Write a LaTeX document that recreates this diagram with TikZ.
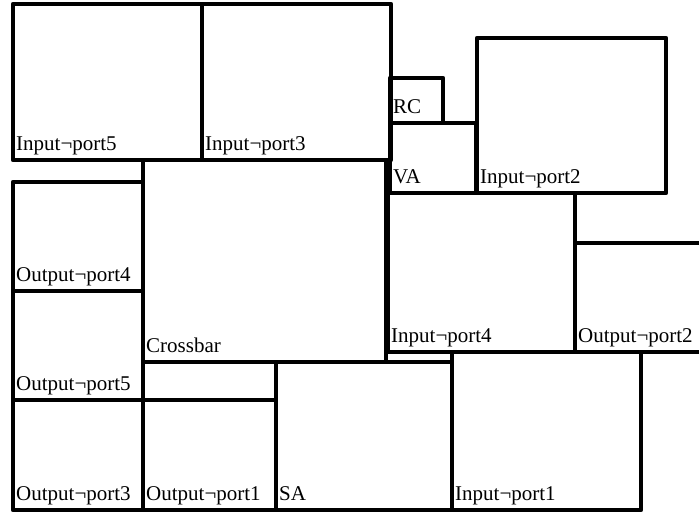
\documentclass[tikz,border=0pt]{standalone}
\usepackage{fontspec}
\setmainfont{Liberation Serif}
\newcommand\blkrect[6]{%
  \draw[blk] (#2,#3) rectangle (#4,#5);
  \node[lbl] (#1) at ({#2+3},{#5-9.5}) {#6};}
\begin{document}
\begin{tikzpicture}[x=1pt,y=-1pt,
  blk/.style={draw=black,line width=4.2pt,line join=round,line cap=round},
  lbl/.style={anchor=base west,inner sep=0pt,font=\fontsize{21}{24}\selectfont}]
\useasboundingbox (0,0) rectangle (699,512);
\clip (0,0) rectangle (699,512);
\blkrect{ip5}{13}{4}{202}{160}{Input¬port5}
\blkrect{ip3}{202}{4}{391}{160}{Input¬port3}
\blkrect{rc}{390}{78}{443}{123}{RC}
\blkrect{va}{390}{123}{476}{193}{VA}
\blkrect{ip2}{477}{38}{666}{193}{Input¬port2}
\blkrect{xb}{143}{160}{386}{362}{Crossbar}
\blkrect{op4}{13}{182}{143}{291}{Output¬port4}
\blkrect{op5}{13}{291}{143}{400}{Output¬port5}
\draw[blk] (143,362) rectangle (276,400);
\blkrect{op3}{13}{400}{143}{510}{Output¬port3}
\blkrect{op1}{143}{400}{276}{510}{Output¬port1}
\blkrect{sa}{276}{362}{452}{510}{SA}
\blkrect{ip4}{388}{193}{575}{352}{Input¬port4}
\blkrect{op2}{575}{243}{730}{352}{Output¬port2}
\blkrect{ip1}{452}{352}{641}{510}{Input¬port1}
\end{tikzpicture}
\end{document}
